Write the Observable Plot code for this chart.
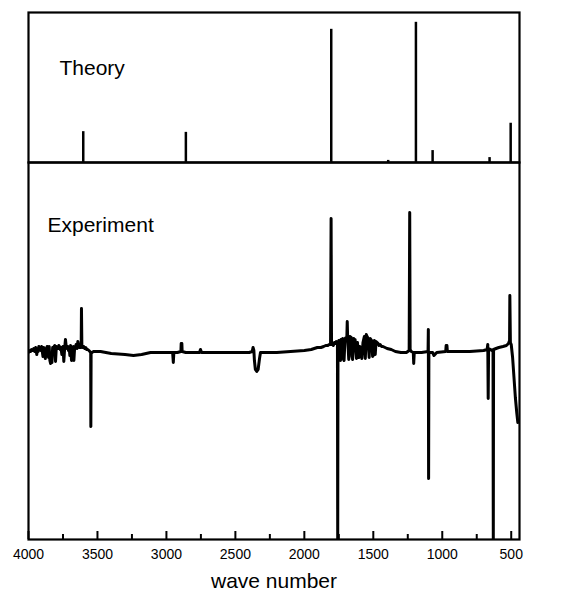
<!DOCTYPE html>
<html><head><meta charset="utf-8">
<script src="https://cdn.jsdelivr.net/npm/d3@7"></script>
<script src="https://cdn.jsdelivr.net/npm/@observablehq/plot@0.6"></script>
<style>
html,body{margin:0;padding:0;background:#fff;overflow:hidden;}
#chart{position:relative;width:566px;height:597px;}
#chart svg{position:absolute;left:0;overflow:visible;}
</style></head><body><div id="chart"></div>
<script>
const xDomain = [4000, 440];
const majorTicks = [4000, 3500, 3000, 2500, 2000, 1500, 1000, 500];
const minorTicks = [3750, 3250, 2750, 2250, 1750, 1250, 750];

const theoryWave = [3603, 2859, 1805, 1392, 1191, 1070, 657, 504];
const theoryIntensity = [22, 21.5, 95, 1.5, 100, 8.5, 3.5, 28];

const expWave = [
 4000,3990,3985,3978,3970,3962,3955,3948,3945,3940,3935,3930,3925,3920,3915,3910,3905,3900,3895,3890,
 3885,3878,3870,3865,3860,3855,3850,3845,3840,3835,3830,3825,3820,3815,3810,3804,3798,3792,3785,3780,
 3775,3770,3765,3758,3750,3744,3738,3732,3726,3720,3715,3710,3705,3700,3695,3688,3680,3675,3671,3665,
 3660,3655,3648,3642,3636,3630,3625,3618,3616,3613,3606,3600,3592,3585,3578,3570,3562,3555,3549,3548,
 3546,3530,3478,3400,3300,3239,3180,3115,3050,2955,2950,2946,2920,2895,2893,2888,2886,2860,2760,2753,
 2745,2500,2400,2378,2372,2366,2362,2355,2345,2335,2325,2318,2200,2100,2000,1950,1906,1880,1860,1845,
 1830,1820,1810,1806,1803,1795,1790,1782,1775,1768,1760,1758,1756,1750,1745,1738,1734,1730,1722,1716,
 1712,1705,1698,1692,1689,1686,1678,1674,1670,1660,1655,1650,1642,1636,1632,1622,1618,1615,1605,1598,
 1590,1583,1575,1570,1565,1558,1551,1545,1540,1530,1526,1522,1512,1505,1500,1492,1486,1480,1472,1465,
 1458,1450,1440,1430,1415,1400,1370,1340,1300,1260,1240,1236,1233,1225,1210,1207,1203,1150,1103,1101,
 1099,1097,1070,1060,1040,975,972,966,963,900,800,700,675,670,667,664,650,640,632,630,
 628,610,590,560,535,520,512,510,506,500,490,480,470,460,452
];
const expSignal = [
 0,2,1,3,2,4,1,5,3,-2,4,1,6,3,5,2,6,1,-4,5,
 3,-6,4,6,5,-5,6,-8,-11,-7,-10,5,4,6,7,-9,6,5,4,7,
 6,3,5,-2,6,-9,4,13,5,4,6,2,5,-3,7,-8,5,6,-8,6,
 5,8,4,11,6,5,7,5,44,6,5,6,4,5,3,3,2,1,0,-74,
 -1,1,1,-1,-2,-3,-2,0,0,0,-10,0,0,1,9,9,1,0,0,3,
 0,0,0,1,5,2,-8,-17,-19,-17,-6,0,0,1,2,3,5,5,6,7,
 7,8,8,134,8,9,7,10,9,11,8,-190,8,12,10,-8,13,12,14,-7,
 -8,14,15,14,31,15,-7,14,16,15,-4,-7,14,12,13,-6,9,10,-5,6,
 4,-6,10,13,16,-6,18,16,15,-5,13,14,12,-4,-3,12,-2,11,10,9,
 7,8,6,6,5,4,3,1,0,0,2,140,3,1,0,-11,0,0,1,23,
 -126,0,0,-3,0,1,7,7,1,1,1,2,3,8,-46,4,3,2,3,-190,
 3,4,5,6,7,9,12,57,10,8,-5,-25,-45,-60,-70
];

const theory = theoryWave.map((w, i) => ({w, v: theoryIntensity[i]}));
const experiment = expWave.map((w, i) => ({w, v: expSignal[i]}));

const font = '"Liberation Sans", Arial, Helvetica, sans-serif';
const chart = document.getElementById("chart");

const theoryPlot = Plot.plot({
  width: 566, height: 162,
  marginTop: 12, marginBottom: 0, marginLeft: 28, marginRight: 47,
  x: {domain: xDomain, axis: null},
  y: {domain: [0, 107], axis: null},
  style: {fontFamily: font, overflow: "visible", background: "transparent", color: "black"},
  marks: [
    Plot.ruleX(theory, {x: "w", y1: 0, y2: "v", stroke: "black", strokeWidth: 2.5}),
    Plot.frame({stroke: "black", strokeWidth: 2.2}),
    Plot.text(["Theory"], {frameAnchor: "top-left", dx: 31, dy: 48, fontSize: 21, textAnchor: "start", fill: "black"})
  ]
});
theoryPlot.style.top = "0px";

const experimentPlot = Plot.plot({
  width: 566, height: 435,
  marginTop: 0, marginBottom: 58, marginLeft: 28, marginRight: 47,
  x: {domain: xDomain, axis: null},
  y: {domain: [-187, 190], axis: null},
  style: {fontFamily: font, overflow: "visible", background: "transparent", color: "black"},
  marks: [
    Plot.line(experiment, {x: "w", y: "v", stroke: "black", strokeWidth: 3, strokeLinejoin: "round", clip: true}),
    Plot.frame({stroke: "black", strokeWidth: 2.2}),
    Plot.ruleX(majorTicks, {x: d => d, insetTop: 369, stroke: "black", strokeWidth: 2}),
    Plot.ruleX(minorTicks, {x: d => d, insetTop: 372, stroke: "black", strokeWidth: 2}),
    Plot.axisX(majorTicks, {tickSize: 0, tickPadding: 10, fontSize: 14, label: null, tickFormat: d => String(d), fill: "black"}),
    Plot.text(["Experiment"], {frameAnchor: "top-left", dx: 19, dy: 55, fontSize: 21, textAnchor: "start", fill: "black"}),
    Plot.text(["wave number"], {frameAnchor: "bottom", dy: 48, fontSize: 21, fill: "black"})
  ]
});
experimentPlot.style.top = "162px";

chart.appendChild(theoryPlot);
chart.appendChild(experimentPlot);
</script>
</body></html>
